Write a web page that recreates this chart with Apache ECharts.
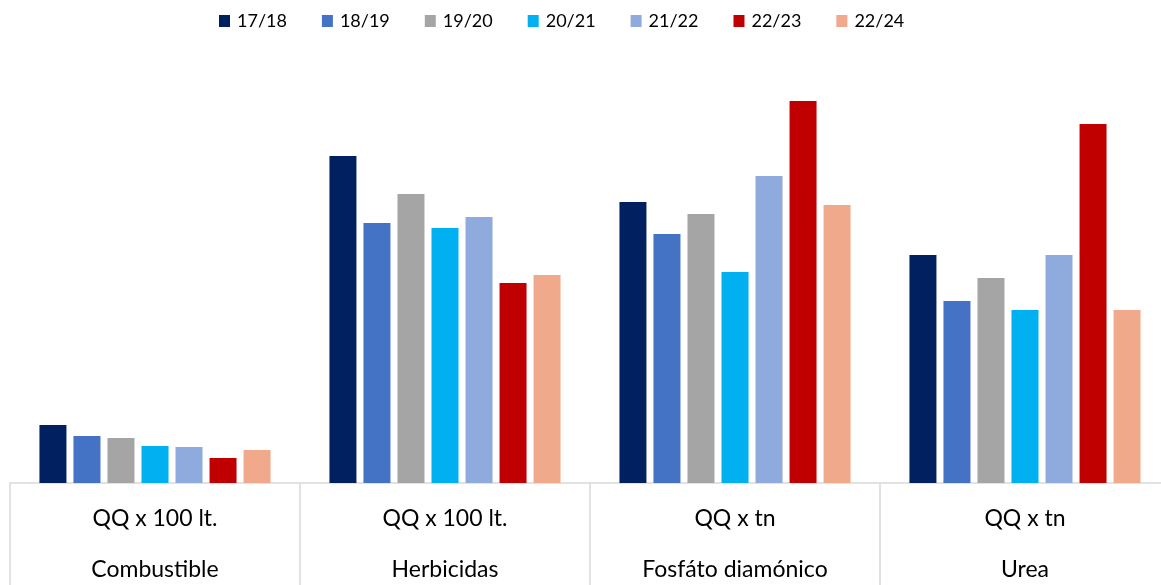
<!DOCTYPE html>
<html>
<head>
<meta charset="utf-8">
<script src="https://cdn.jsdelivr.net/npm/echarts@6/dist/echarts.min.js"></script>
<style>html,body{margin:0;padding:0;background:#fff}#c{width:1161px;height:585px}</style>
</head>
<body>
<div id="c"></div>
<script>
const categories = ['Combustible', 'Herbicidas', 'Fosfáto diamónico', 'Urea'];
const units = ['QQ x 100 lt.', 'QQ x 100 lt.', 'QQ x tn', 'QQ x tn'];
const seriesNames = ['17/18', '18/19', '19/20', '20/21', '21/22', '22/23', '22/24'];
const s1718 = [58, 327, 281, 228];
const s1819 = [47, 260, 249, 182];
const s1920 = [45, 289, 269, 205];
const s2021 = [37, 255, 211, 173];
const s2122 = [36, 266, 307, 228];
const s2223 = [25, 200, 382, 359];
const s2224 = [33, 208, 278, 173];
const seriesValues = [s1718, s1819, s1920, s2021, s2122, s2223, s2224];
const colors = ['#002060', '#4472C4', '#A5A5A5', '#00B0F0', '#8FAADC', '#C00000', '#F1A98B'];

const chart = echarts.init(document.getElementById('c'), null, {renderer: 'canvas'});
chart.setOption({
  animation: false,
  color: colors,
  textStyle: {fontFamily: 'Lato'},
  legend: {
    top: 6,
    left: 214,
    itemWidth: 11,
    itemHeight: 12,
    itemGap: 35,
    icon: 'rect',
    textStyle: {fontSize: 18, lineHeight: 20, color: '#000', fontFamily: 'Lato', padding: [0, 0, 0, 2]},
    data: seriesNames
  },
  grid: {left: 10, width: 1160, top: 83, height: 400, containLabel: false, outerBoundsMode: 'none'},
  xAxis: {
    type: 'category',
    data: categories,
    axisLine: {show: true, lineStyle: {color: '#d9d9d9', width: 1.5}},
    axisTick: {show: true, length: 102, interval: 0, lineStyle: {color: '#d9d9d9', width: 1.5}},
    axisLabel: {
      interval: 0,
      margin: 10,
      fontSize: 23,
      lineHeight: 51,
      color: '#000',
      fontFamily: 'Lato',
      hideOverlap: false,
      formatter: function (v, i) { return units[i] + '\n' + v; }
    }
  },
  yAxis: {type: 'value', min: 0, max: 400, show: false, splitLine: {show: false}},
  series: seriesNames.map(function (n, i) {
    return {
      name: n,
      type: 'bar',
      data: seriesValues[i],
      barWidth: 27,
      barGap: '26%'
    };
  })
});
</script>
</body>
</html>
